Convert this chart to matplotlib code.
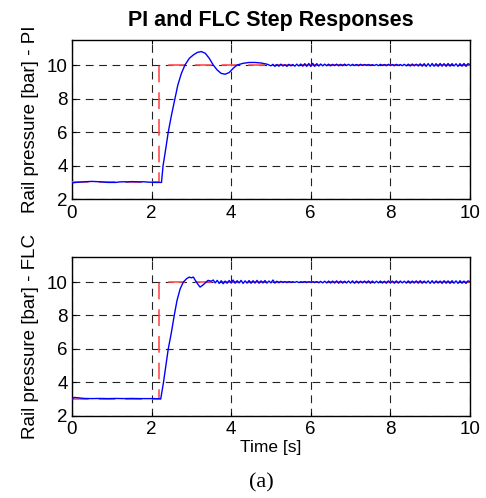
import numpy as np
import matplotlib
matplotlib.use('Agg')
import matplotlib.pyplot as plt

plt.rcParams['font.family'] = ['Liberation Sans', 'DejaVu Sans']

# 参照値（ステップ指令）
ref_t = [0.0, 2.2, 2.2, 10.0]
ref_p = [3.0, 3.0, 10.0, 10.0]

# PI 応答：立ち上がり前
pi_pre_t = [0.0, 0.1, 0.2, 0.3, 0.4, 0.5, 0.6, 0.7, 0.8, 0.9, 1.0, 1.1,
            1.2, 1.3, 1.4, 1.5, 1.6, 1.7, 1.8, 1.9, 2.0, 2.1, 2.2]
pi_pre_p = [2.97, 3.00, 3.02, 3.04, 3.05, 3.06, 3.05, 3.04, 3.02, 3.00, 3.00, 3.00,
            3.03, 3.04, 3.03, 3.05, 3.04, 3.03, 3.04, 3.02, 3.01, 3.00, 3.00]
# PI 応答：過渡部
pi_tr_t = [2.25, 2.29, 2.35, 2.42, 2.50, 2.59, 2.66, 2.75, 2.84, 2.95, 3.05, 3.15,
           3.25, 3.35, 3.45, 3.55, 3.65, 3.75, 3.85, 3.95, 4.05, 4.15, 4.30, 4.45,
           4.60, 4.75, 4.90]
pi_tr_p = [3.00, 4.00, 4.90, 6.00, 7.00, 8.00, 8.80, 9.50, 10.00, 10.40, 10.60, 10.75,
           10.80, 10.70, 10.40, 10.00, 9.70, 9.50, 9.45, 9.55, 9.80, 10.00, 10.10, 10.15,
           10.15, 10.12, 10.05]
# PI 応答：定常部（5.00〜10.00 s, 0.05 s 刻み）
pi_ss_p = [9.95, 10.04, 9.92, 10.03, 9.93, 10.05, 9.94, 10.02, 9.92, 10.04,
           9.95, 10.03, 9.93, 10.05, 9.94, 10.06, 9.93, 10.08, 9.92, 10.09,
           9.91, 10.10, 9.92, 10.08, 9.94, 10.06, 9.95, 10.05, 9.96, 10.05,
           9.95, 10.04, 9.96, 10.05, 9.95, 10.04, 9.96, 10.05, 9.97, 10.04,
           9.96, 10.04, 9.97, 10.03, 9.96, 10.04, 9.97, 10.03, 9.98, 10.03,
           9.97, 10.02, 9.97, 10.03, 9.96, 10.04, 9.97, 10.03, 9.96, 10.04,
           9.97, 10.03, 9.96, 10.04, 9.97, 10.03, 9.96, 10.04, 9.95, 10.05,
           9.94, 10.06, 9.95, 10.05, 9.94, 10.07, 9.93, 10.08, 9.92, 10.08,
           9.92, 10.09, 9.93, 10.08, 9.92, 10.09, 9.93, 10.08, 9.92, 10.09,
           9.93, 10.08, 9.94, 10.07, 9.92, 10.08, 9.93, 10.09, 9.92, 10.08, 10.02]
pi_ss_t = np.round(np.arange(len(pi_ss_p)) * 0.05 + 5.0, 2)

# FLC 応答：立ち上がり前
flc_pre_t = [0.0, 0.05, 0.15, 0.3, 0.5, 0.7, 0.9, 1.1, 1.3, 1.5, 1.7, 1.9, 2.1, 2.2]
flc_pre_p = [2.95, 3.10, 3.08, 3.04, 3.03, 3.04, 3.03, 3.04, 3.03, 3.04, 3.03, 3.03, 3.03, 3.02]
# FLC 応答：過渡部
flc_tr_t = [2.23, 2.30, 2.36, 2.42, 2.50, 2.57, 2.64, 2.72, 2.80, 2.88, 2.95, 3.00,
            3.05, 3.10, 3.17, 3.22, 3.28, 3.35, 3.42, 3.50]
flc_tr_p = [3.00, 4.00, 5.00, 6.00, 7.00, 8.00, 8.90, 9.60, 10.00, 10.20, 10.30, 10.25,
            10.30, 10.10, 9.85, 9.70, 9.80, 9.95, 10.10, 10.05]
# FLC 応答：定常部（3.55〜10.00 s, 0.05 s 刻み）
flc_ss_p = [10.12, 9.95, 10.10, 9.92, 10.08, 9.90, 10.06, 9.93, 10.09, 9.94,
            10.12, 9.93, 10.08, 9.95, 10.10, 9.92, 10.07, 9.94, 10.09, 9.93,
            10.08, 9.94, 10.10, 9.93, 10.07, 9.95, 10.09, 9.94, 10.06, 9.95,
            10.12, 9.94, 10.05, 9.96, 10.04, 9.97, 10.03, 9.97, 10.03, 9.98,
            10.02, 9.98, 10.03, 9.97, 10.02, 9.98, 10.03, 9.97, 10.02, 9.98,
            10.02, 9.97, 10.03, 9.96, 10.04, 9.95, 10.05, 9.95, 10.06, 9.94,
            10.06, 9.94, 10.07, 9.93, 10.06, 9.94, 10.05, 9.95, 10.06, 9.94,
            10.07, 9.93, 10.06, 9.94, 10.05, 9.95, 10.06, 9.94, 10.07, 9.93,
            10.06, 9.94, 10.05, 9.95, 10.06, 9.94, 10.05, 9.93, 10.07, 9.94,
            10.06, 9.93, 10.07, 9.94, 10.06, 9.95, 10.05, 9.94, 10.07, 9.93,
            10.06, 9.94, 10.07, 9.93, 10.08, 9.93, 10.06, 9.94, 10.07, 9.92,
            10.08, 9.93, 10.07, 9.94, 10.06, 9.92, 10.08, 9.93, 10.07, 9.92,
            10.08, 9.93, 10.07, 9.92, 10.08, 9.93, 10.06, 9.92, 10.07, 10.03]
flc_ss_t = np.round(np.arange(len(flc_ss_p)) * 0.05 + 3.55, 2)

pi_t = np.concatenate([pi_pre_t, pi_tr_t, pi_ss_t])
pi_p = np.concatenate([pi_pre_p, pi_tr_p, pi_ss_p])
flc_t = np.concatenate([flc_pre_t, flc_tr_t, flc_ss_t])
flc_p = np.concatenate([flc_pre_p, flc_tr_p, flc_ss_p])

x_ticks = [0, 2, 4, 6, 8, 10]
y_ticks = [2, 4, 6, 8, 10]

fig = plt.figure(figsize=(4.86, 4.98), dpi=100)
ax1 = fig.add_axes([0.148, 0.600, 0.819, 0.320])
ax2 = fig.add_axes([0.148, 0.165, 0.819, 0.319])

for ax, t, p, lab in [(ax1, pi_t, pi_p, 'Rail pressure [bar] - PI'),
                      (ax2, flc_t, flc_p, 'Rail pressure [bar] - FLC')]:
    ax.plot(ref_t, ref_p, color='#ff4d4d', linewidth=1.2, dashes=(10, 6), zorder=3)
    ax.plot(t, p, color='#0000ff', linewidth=1.0, zorder=4)
    ax.set_xlim(0, 10)
    ax.set_ylim(2, 11.5)
    ax.set_xticks(x_ticks)
    ax.set_yticks(y_ticks)
    ax.tick_params(direction='in', length=3, width=0.8, labelsize=13.5,
                   top=True, right=True)
    ax.tick_params(axis='x', pad=4)
    ax.tick_params(axis='y', pad=3)
    ax.grid(True, color='#222222', linewidth=0.8, dashes=(7, 5))
    for s in ax.spines.values():
        s.set_linewidth(1.0)
    ax.set_ylabel(lab, fontsize=13.5, labelpad=6)

ax1.set_title('PI and FLC Step Responses', fontsize=15.5, fontweight='bold', pad=10)
ax2.set_xlabel('Time [s]', fontsize=12.5, labelpad=1)
fig.text(0.537, 0.012, '(a)', fontsize=16, family=['Liberation Serif', 'DejaVu Serif'],
         ha='center', va='bottom')

plt.savefig('out.png', dpi=100)
